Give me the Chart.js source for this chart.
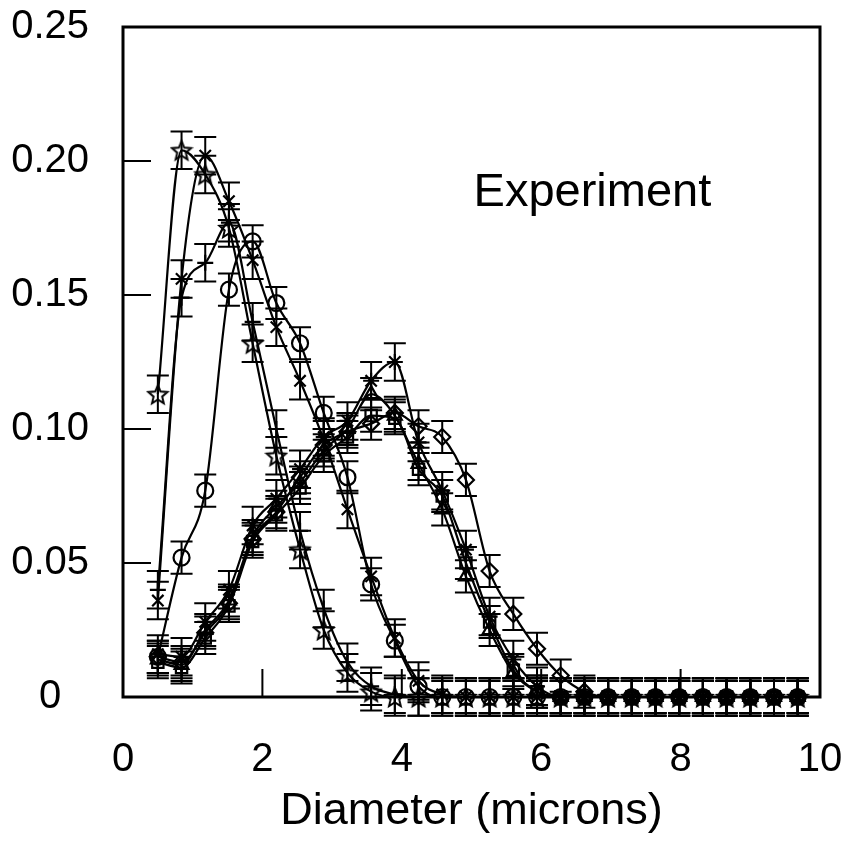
<!DOCTYPE html>
<html>
<head>
<meta charset="utf-8">
<title>Experiment – droplet diameter distribution</title>
<script src="https://cdn.jsdelivr.net/npm/chart.js@4.4.0/dist/chart.umd.min.js"></script>
<style>
  html, body { margin: 0; padding: 0; background: #fff; }
  #wrap { width: 849px; height: 849px; }
</style>
</head>
<body>
<div id="wrap"><canvas id="sizeChart" width="849" height="849"></canvas></div>
<script>
// bin centres (microns)
const diameters = [0.50, 0.84, 1.18, 1.52, 1.86, 2.20, 2.54, 2.88, 3.22, 3.56,
                   3.90, 4.24, 4.58, 4.92, 5.26, 5.60, 5.94, 6.28, 6.62, 6.96,
                   7.30, 7.64, 7.98, 8.32, 8.66, 9.00, 9.34, 9.68];

// fractions, one list per marker
const openStars = [0.113, 0.204, 0.195, 0.175, 0.132, 0.090, 0.055, 0.025, 0.009, 0.002,
                   0, 0, 0, 0, 0, 0, 0, 0, 0, 0, 0, 0, 0, 0, 0, 0, 0, 0];
const plusMarks = [0.040, 0.149, 0.162, 0.177, 0.140, 0.100, 0.062, 0.033, 0.013, 0.004,
                   0.001, 0, 0, 0, 0, 0, 0, 0, 0, 0, 0, 0, 0, 0, 0, 0, 0, 0];
const crossMarks = [0.036, 0.156, 0.202, 0.185, 0.163, 0.138, 0.118, 0.096, 0.070, 0.045,
                    0.022, 0.006, 0.001, 0, 0, 0, 0, 0, 0, 0, 0, 0, 0, 0, 0, 0, 0, 0];
const circles = [0.015, 0.052, 0.077, 0.152, 0.170, 0.147, 0.132, 0.106, 0.082, 0.042,
                 0.021, 0.004, 0, 0, 0, 0, 0, 0, 0, 0, 0, 0, 0, 0, 0, 0, 0, 0];
const triangles = [0.014, 0.012, 0.025, 0.036, 0.060, 0.071, 0.080, 0.092, 0.100, 0.113,
                   0.105, 0.087, 0.070, 0.045, 0.025, 0.009, 0.002, 0, 0, 0,
                   0, 0, 0, 0, 0, 0, 0, 0];
const asterisks = [0.016, 0.015, 0.028, 0.040, 0.064, 0.074, 0.085, 0.097, 0.103, 0.118,
                   0.125, 0.095, 0.077, 0.055, 0.030, 0.014, 0.004, 0, 0, 0,
                   0, 0, 0, 0, 0, 0, 0, 0];
const squares = [0.013, 0.011, 0.022, 0.034, 0.058, 0.068, 0.078, 0.090, 0.097, 0.105,
                 0.104, 0.085, 0.075, 0.050, 0.028, 0.010, 0.002, 0, 0, 0,
                 0, 0, 0, 0, 0, 0, 0, 0];
const diamonds = [0.015, 0.013, 0.024, 0.035, 0.059, 0.069, 0.082, 0.094, 0.099, 0.102,
                  0.106, 0.101, 0.097, 0.081, 0.047, 0.031, 0.018, 0.008, 0.002, 0,
                  0, 0, 0, 0, 0, 0, 0, 0];

// half length of the error bars for each list above, same order
const errorHalf = [0.007, 0.007, 0.007, 0.006, 0.006, 0.007, 0.006, 0.006];

const xTicks = [0, 2, 4, 6, 8, 10];
const yTicks = [0, 0.05, 0.10, 0.15, 0.20, 0.25];
const annotation = 'Experiment';

// open five point star, Chart.js only has an asterisk called "star"
function makeStar(size) {
  const c = document.createElement('canvas');
  c.width = size; c.height = size;
  const g = c.getContext('2d');
  const cx = size / 2, cy = size / 2 + 1, ro = size / 2 - 2, ri = ro * 0.45;
  g.beginPath();
  for (let k = 0; k < 10; k++) {
    const r = k % 2 ? ri : ro;
    const a = -Math.PI / 2 + k * Math.PI / 5;
    g.lineTo(cx + r * Math.cos(a), cy + r * Math.sin(a));
  }
  g.closePath();
  g.lineWidth = 2;
  g.strokeStyle = '#000';
  g.stroke();
  return c;
}

const markerLists = [
  { values: openStars, style: makeStar(24) },
  { values: plusMarks, style: 'cross' },
  { values: crossMarks, style: 'crossRot' },
  { values: circles, style: 'circle' },
  { values: triangles, style: 'triangle' },
  { values: asterisks, style: 'star' },
  { values: squares, style: 'rect' },
  { values: diamonds, style: 'rectRot' },
];

const datasets = markerLists.map((m, i) => ({
  data: m.values.map((v, j) => ({ x: diameters[j], y: v })),
  errHalf: errorHalf[i],
  pointStyle: m.style,
  pointRadius: 8,
  pointBorderWidth: 2.2,
  pointBorderColor: '#000',
  pointBackgroundColor: 'rgba(0,0,0,0)',
  borderColor: '#000',
  borderWidth: 2.2,
  cubicInterpolationMode: 'monotone',
  fill: false,
  clip: false,
}));

// frame, inward tick marks, error bars and the "Experiment" label
const framePlugin = {
  id: 'frame',
  beforeDatasetsDraw(chart) {
    const { ctx, scales: { x, y } } = chart;
    ctx.save();
    ctx.strokeStyle = '#000';
    ctx.lineWidth = 2;
    chart.data.datasets.forEach((ds) => {
      const e = ds.errHalf;
      ds.data.forEach((p) => {
        const px = x.getPixelForValue(p.x);
        const top = y.getPixelForValue(p.y + e);
        const bot = y.getPixelForValue(p.y - e);
        ctx.beginPath();
        ctx.moveTo(px, top); ctx.lineTo(px, bot);
        ctx.moveTo(px - 11, top); ctx.lineTo(px + 11, top);
        ctx.moveTo(px - 11, bot); ctx.lineTo(px + 11, bot);
        ctx.stroke();
      });
    });
    ctx.restore();
  },
  afterDraw(chart) {
    const { ctx, chartArea: a, scales: { x, y } } = chart;
    ctx.save();
    ctx.strokeStyle = '#000';
    ctx.lineWidth = 3;
    ctx.strokeRect(a.left, a.top, a.right - a.left, a.bottom - a.top);
    ctx.lineWidth = 2;
    ctx.beginPath();
    yTicks.slice(1, -1).forEach((v) => {
      const py = y.getPixelForValue(v);
      ctx.moveTo(a.left, py); ctx.lineTo(a.left + 28, py);
    });
    xTicks.slice(1, -1).forEach((v) => {
      const px = x.getPixelForValue(v);
      ctx.moveTo(px, a.bottom); ctx.lineTo(px, a.bottom - 28);
    });
    ctx.stroke();
    ctx.fillStyle = '#000';
    ctx.font = '47px "Liberation Sans", Arial, sans-serif';
    ctx.textBaseline = 'middle';
    ctx.textAlign = 'left';
    ctx.fillText(annotation, x.getPixelForValue(5.03), y.getPixelForValue(0.188));
    ctx.restore();
  },
};

const tickFont = { family: '"Liberation Sans", Arial, sans-serif', size: 40 };

new Chart(document.getElementById('sizeChart'), {
  type: 'line',
  data: { datasets },
  options: {
    responsive: false,
    animation: false,
    events: [],
    layout: { padding: { top: 27, right: 29, left: 0, bottom: 0 } },
    plugins: { legend: { display: false }, tooltip: { enabled: false } },
    scales: {
      x: {
        type: 'linear',
        min: 0, max: 10,
        afterBuildTicks: (s) => { s.ticks = xTicks.map((v) => ({ value: v })); },
        afterFit: (s) => { s.height = 152; s.paddingLeft = 0; s.paddingRight = 0; },
        grid: { display: false },
        border: { display: false },
        ticks: { color: '#000', font: tickFont, padding: 31 },
        title: {
          display: true,
          text: 'Diameter (microns)',
          color: '#000',
          font: { family: '"Liberation Sans", Arial, sans-serif', size: 45 },
          padding: { top: 0, bottom: 10 },
        },
      },
      y: {
        min: 0, max: 0.25,
        afterBuildTicks: (s) => { s.ticks = yTicks.map((v) => ({ value: v })); },
        afterFit: (s) => { s.width = 123; s.paddingTop = 0; s.paddingBottom = 0; },
        grid: { display: false },
        border: { display: false },
        ticks: {
          color: '#000',
          font: tickFont,
          crossAlign: 'center',
          padding: 26,
          callback: (v) => (v === 0 ? '0' : v.toFixed(2)),
        },
      },
    },
  },
  plugins: [framePlugin],
});
</script>
</body>
</html>
